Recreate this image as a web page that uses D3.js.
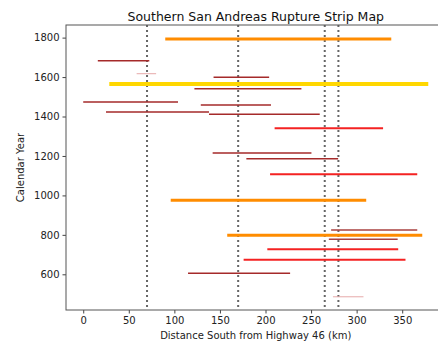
<!DOCTYPE html>
<html>
<head>
<meta charset="utf-8">
<script src="https://cdn.jsdelivr.net/npm/d3@7"></script>
<style>
  body { margin: 0; background: #fff; }
  svg { display: block; font-family: "DejaVu Sans", sans-serif; }
</style>
</head>
<body>
<script>
// rupture strips: year, start / end distance (km), class
var years   = [1793, 1683, 1617, 1599, 1565, 1541, 1474, 1459, 1423, 1411, 1340, 1215, 1186, 1107, 975, 825, 798, 778, 727, 674, 605, 486];
var startKm = [90, 16, 58.6, 143, 28.6, 122, 0, 129, 25, 138, 210, 142, 179, 205, 96, 272, 158, 269.5, 202, 176, 115, 274];
var endKm   = [338, 72.5, 80, 204, 378.6, 239.4, 104, 206, 138, 259.5, 329, 250.4, 279.7, 366.5, 310.5, 366.5, 372, 345, 345.6, 353.6, 227, 307.5];
var kind    = ["orange", "darkred", "pink", "darkred", "gold", "darkred", "darkred", "darkred", "darkred", "darkred", "red", "darkred", "darkred", "red", "orange", "brown", "orange", "brown", "red", "red", "darkred", "pink"];

var markers = [70, 170, 265, 280];
var xTicks = [0, 50, 100, 150, 200, 250, 300, 350];
var yTicks = [600, 800, 1000, 1200, 1400, 1600, 1800];

var colors = { gold: "#ffd700", orange: "#ff8c00", red: "#f42222", darkred: "#a52a2a", brown: "#a8403f", pink: "#e6a9a9" };
var widths = { gold: 4, orange: 3, red: 2, darkred: 1.5, brown: 1.5, pink: 1 };

var W = 438, H = 342;
// plot box (note: "top" is taken by window.top)
var pLeft = 66, pRight = 445.5, pTop = 25, pBottom = 310;

var svg = d3.select("body").append("svg")
    .attr("width", W)
    .attr("height", H);

var x = d3.scaleLinear().domain([-18.9, 397.5]).range([pLeft, pRight]);
var y = d3.scaleLinear().domain([419, 1864]).range([pBottom, pTop]);

// dotted markers
svg.selectAll("line.marker")
    .data(markers)
    .enter().append("line")
    .attr("class", "marker")
    .attr("x1", function(d) { return x(d); })
    .attr("x2", function(d) { return x(d); })
    .attr("y1", pTop)
    .attr("y2", pBottom)
    .attr("stroke", "#666")
    .attr("stroke-width", 2)
    .attr("stroke-dasharray", "2,3");

// strips
var strips = years.map(function(yr, i) {
  return { year: yr, a: startKm[i], b: endKm[i], k: kind[i] };
});

svg.selectAll("line.strip")
    .data(strips)
    .enter().append("line")
    .attr("class", "strip")
    .attr("x1", function(d) { return x(d.a); })
    .attr("x2", function(d) { return x(d.b); })
    .attr("y1", function(d) { return y(d.year); })
    .attr("y2", function(d) { return y(d.year); })
    .attr("stroke", function(d) { return colors[d.k]; })
    .attr("stroke-width", function(d) { return widths[d.k]; });

// axes
var xAxis = svg.append("g")
    .attr("transform", "translate(0," + pBottom + ")")
    .call(d3.axisBottom(x).tickValues(xTicks).tickSize(3.5).tickPadding(3));
var yAxis = svg.append("g")
    .attr("transform", "translate(" + pLeft + ",0)")
    .call(d3.axisLeft(y).tickValues(yTicks).tickSize(3.5).tickPadding(3).tickFormat(d3.format("d")));

[xAxis, yAxis].forEach(function(g) {
  g.select(".domain").remove();
  g.selectAll("line").attr("stroke", "#444");
  g.selectAll("text").attr("fill", "#222").style("font-size", "10px").style("font-family", "DejaVu Sans, sans-serif");
});

// spines
svg.append("rect")
    .attr("x", pLeft)
    .attr("y", pTop)
    .attr("width", pRight - pLeft)
    .attr("height", pBottom - pTop)
    .attr("fill", "none")
    .attr("stroke", "#555")
    .attr("stroke-width", 1);

// labels
svg.append("text")
    .attr("x", (pLeft + pRight) / 2)
    .attr("y", 21)
    .attr("text-anchor", "middle")
    .style("font-size", "12.5px")
    .attr("fill", "#111")
    .text("Southern San Andreas Rupture Strip Map");

svg.append("text")
    .attr("x", (pLeft + pRight) / 2)
    .attr("y", 339)
    .attr("text-anchor", "middle")
    .style("font-size", "10px")
    .attr("fill", "#222")
    .text("Distance South from Highway 46 (km)");

svg.append("text")
    .attr("transform", "translate(24," + ((pTop + pBottom) / 2) + ") rotate(-90)")
    .attr("text-anchor", "middle")
    .style("font-size", "10px")
    .attr("fill", "#222")
    .text("Calendar Year");
</script>
</body>
</html>
